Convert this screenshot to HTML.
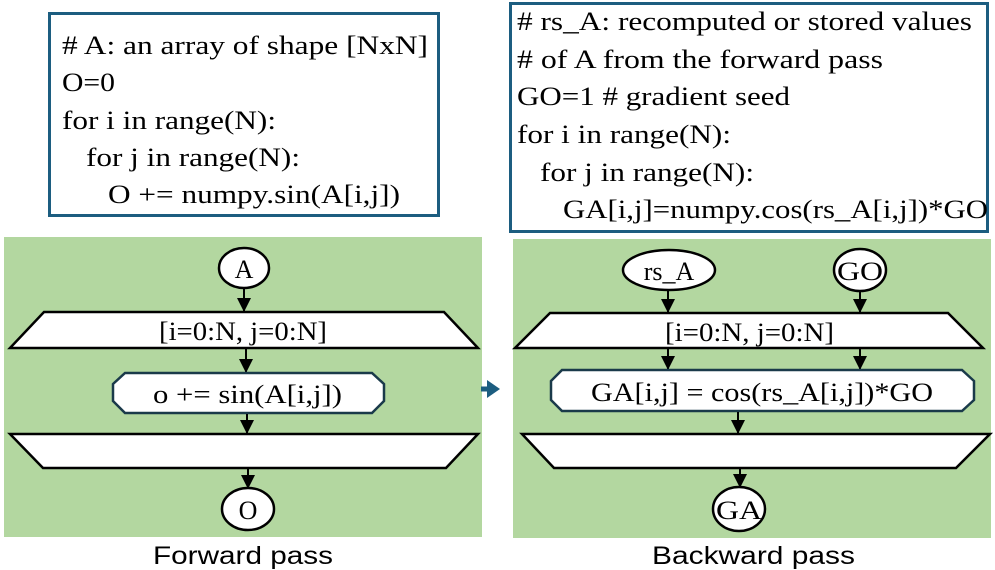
<!DOCTYPE html>
<html><head><meta charset="utf-8"><style>
html,body{margin:0;padding:0;background:#fff;}
svg{display:block;}
.s{font-family:"Liberation Serif",serif;font-size:26px;fill:#000;}
.f{font-family:"Liberation Sans",sans-serif;font-size:25px;fill:#000;}
</style></head><body>
<svg width="995" height="570" viewBox="0 0 995 570" xmlns="http://www.w3.org/2000/svg">
<defs><marker id="ar" markerWidth="14" markerHeight="14" refX="13" refY="7" orient="auto" markerUnits="userSpaceOnUse"><path d="M0,0 L14,7 L0,14 z" fill="#000"/></marker></defs>
<!-- code boxes -->
<rect x="49.5" y="13.5" width="389" height="202" fill="#fff" stroke="#1c5d80" stroke-width="3"/>
<text class="s" x="62" y="54" textLength="366" lengthAdjust="spacingAndGlyphs"># A: an array of shape [NxN]</text>
<text class="s" x="62" y="91" textLength="53" lengthAdjust="spacingAndGlyphs">O=0</text>
<text class="s" x="62" y="129" textLength="214" lengthAdjust="spacingAndGlyphs">for i in range(N):</text>
<text class="s" x="86" y="166" textLength="214" lengthAdjust="spacingAndGlyphs">for j in range(N):</text>
<text class="s" x="108" y="203" textLength="292" lengthAdjust="spacingAndGlyphs">O += numpy.sin(A[i,j])</text>

<rect x="510.5" y="3.5" width="477" height="228" fill="#fff" stroke="#1c5d80" stroke-width="3"/>
<text class="s" x="517" y="30" textLength="455" lengthAdjust="spacingAndGlyphs"># rs_A: recomputed or stored values</text>
<text class="s" x="517" y="68" textLength="366" lengthAdjust="spacingAndGlyphs"># of A from the forward pass</text>
<text class="s" x="517" y="105" textLength="273" lengthAdjust="spacingAndGlyphs">GO=1 # gradient seed</text>
<text class="s" x="517" y="143" textLength="214" lengthAdjust="spacingAndGlyphs">for i in range(N):</text>
<text class="s" x="540" y="181" textLength="214" lengthAdjust="spacingAndGlyphs">for j in range(N):</text>
<text class="s" x="563" y="218" textLength="425" lengthAdjust="spacingAndGlyphs">GA[i,j]=numpy.cos(rs_A[i,j])*GO</text>

<!-- left panel -->
<rect x="4" y="237" width="478" height="300" fill="#b3d7a0"/>
<ellipse cx="244" cy="268" rx="25" ry="20" fill="#fff" stroke="#000" stroke-width="2.5"/>
<text class="s" x="244" y="278" text-anchor="middle">A</text>
<line x1="244" y1="289" x2="244" y2="311" stroke="#000" stroke-width="2" marker-end="url(#ar)"/>
<polygon points="44,312 444,312 478,348 10,348" fill="#fff" stroke="#000" stroke-width="2.5"/>
<text class="s" x="159" y="340" textLength="168" lengthAdjust="spacingAndGlyphs">[i=0:N, j=0:N]</text>
<line x1="246" y1="349" x2="246" y2="372" stroke="#000" stroke-width="2" marker-end="url(#ar)"/>
<polygon points="125,373 372,373 384,384 384,401 372,413 125,413 113,401 113,384" fill="#fff" stroke="#1a3a4a" stroke-width="2.5"/>
<text class="s" x="153" y="403" textLength="189" lengthAdjust="spacingAndGlyphs">o += sin(A[i,j])</text>
<line x1="247" y1="414" x2="247" y2="433" stroke="#000" stroke-width="2" marker-end="url(#ar)"/>
<polygon points="10,434 478,434 446,468 43,468" fill="#fff" stroke="#000" stroke-width="2.5"/>
<line x1="248" y1="469" x2="248" y2="488" stroke="#000" stroke-width="2" marker-end="url(#ar)"/>
<ellipse cx="248" cy="509" rx="26" ry="21" fill="#fff" stroke="#000" stroke-width="2.5"/>
<text class="s" x="248" y="519" text-anchor="middle">O</text>
<text class="f" x="153" y="564" textLength="180" lengthAdjust="spacingAndGlyphs">Forward pass</text>

<!-- blue arrow -->
<line x1="481" y1="389" x2="490" y2="389" stroke="#1c5d80" stroke-width="5"/>
<polygon points="487,380 500,389 487,398" fill="#1c5d80"/>

<!-- right panel -->
<rect x="513" y="239" width="478" height="299" fill="#b3d7a0"/>
<ellipse cx="669" cy="270" rx="46" ry="20" fill="#fff" stroke="#000" stroke-width="2.5"/>
<text class="s" x="669" y="280" text-anchor="middle">rs_A</text>
<ellipse cx="860" cy="270" rx="26" ry="21" fill="#fff" stroke="#000" stroke-width="2.5"/>
<text class="s" x="860" y="280" text-anchor="middle" textLength="46" lengthAdjust="spacingAndGlyphs">GO</text>
<line x1="668" y1="291" x2="668" y2="312" stroke="#000" stroke-width="2" marker-end="url(#ar)"/>
<line x1="860" y1="292" x2="860" y2="312" stroke="#000" stroke-width="2" marker-end="url(#ar)"/>
<polygon points="550,313 948,313 983,348 515,348" fill="#fff" stroke="#000" stroke-width="2.5"/>
<text class="s" x="665" y="341" textLength="169" lengthAdjust="spacingAndGlyphs">[i=0:N, j=0:N]</text>
<line x1="668" y1="349" x2="668" y2="369" stroke="#000" stroke-width="2" marker-end="url(#ar)"/>
<line x1="860" y1="349" x2="860" y2="369" stroke="#000" stroke-width="2" marker-end="url(#ar)"/>
<polygon points="562,370 962,370 974,381 974,400 962,411 562,411 551,400 551,381" fill="#fff" stroke="#1a3a4a" stroke-width="2.5"/>
<text class="s" x="591" y="401" textLength="342" lengthAdjust="spacingAndGlyphs">GA[i,j] = cos(rs_A[i,j])*GO</text>
<line x1="738" y1="412" x2="738" y2="433" stroke="#000" stroke-width="2" marker-end="url(#ar)"/>
<polygon points="522,434 990,434 956,468 554,468" fill="#fff" stroke="#000" stroke-width="2.5"/>
<line x1="740" y1="469" x2="740" y2="487" stroke="#000" stroke-width="2" marker-end="url(#ar)"/>
<ellipse cx="739" cy="509" rx="26" ry="22" fill="#fff" stroke="#000" stroke-width="2.5"/>
<text class="s" x="739" y="519" text-anchor="middle" textLength="46" lengthAdjust="spacingAndGlyphs">GA</text>
<text class="f" x="652" y="564" textLength="203" lengthAdjust="spacingAndGlyphs">Backward pass</text>
</svg>
</body></html>
